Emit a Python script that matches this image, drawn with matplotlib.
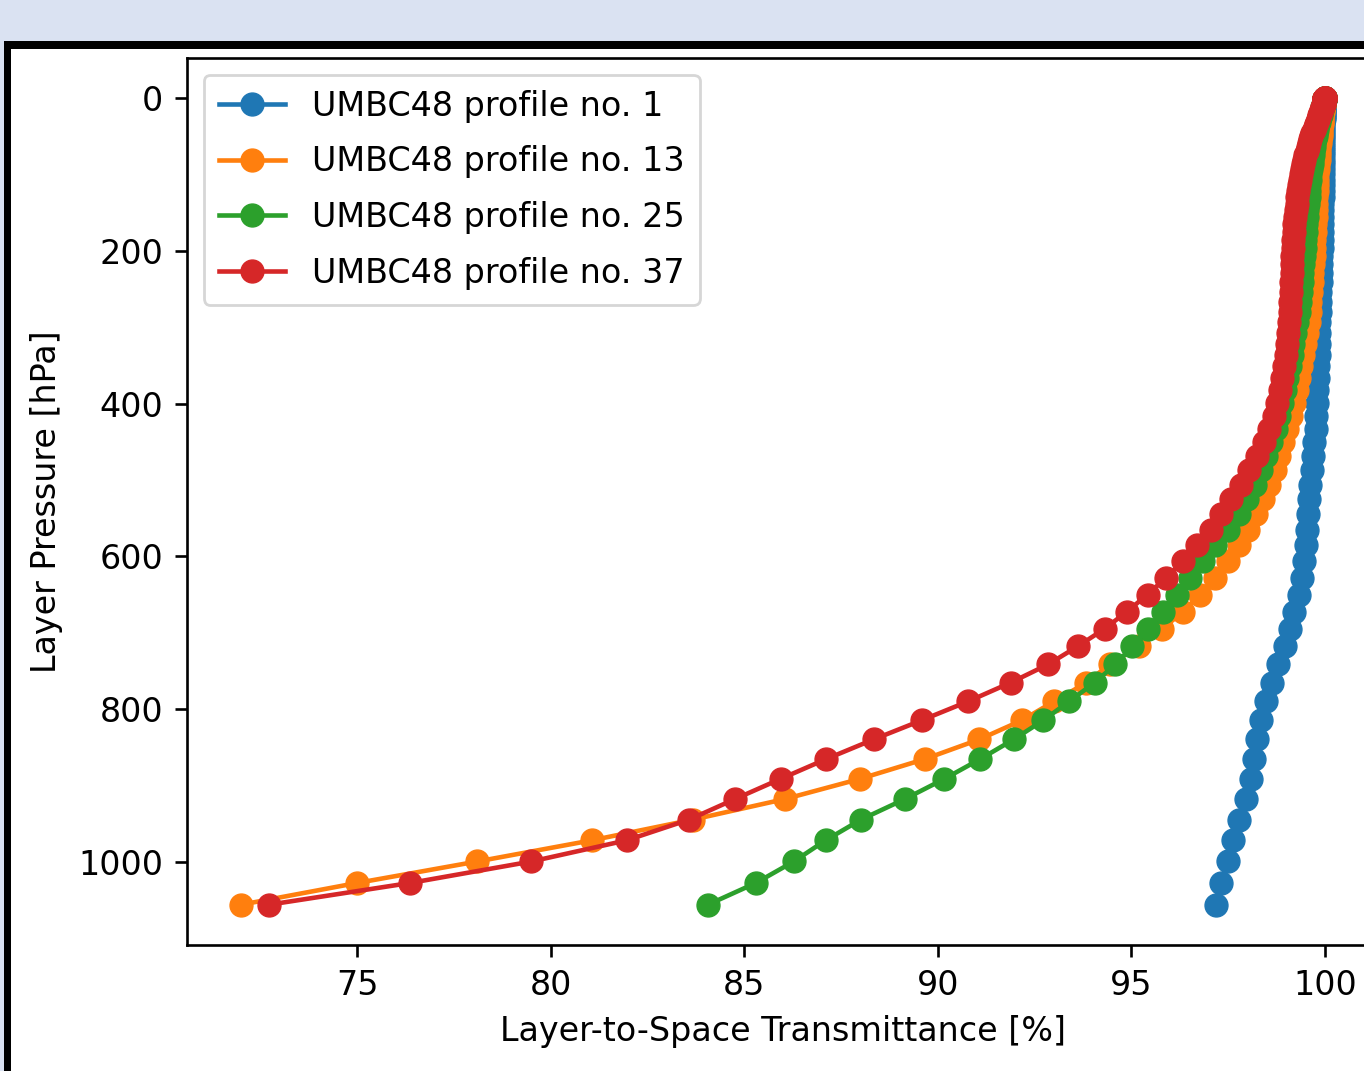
import numpy as np
import matplotlib
matplotlib.use("Agg")
from matplotlib import pyplot as plt
from matplotlib.patches import Rectangle

# AIRS 100-layer mean pressures [hPa], top of atmosphere first (bottom layer dropped)
pressure = [0.011, 0.027, 0.058, 0.107, 0.181, 0.285, 0.426, 0.610, 0.845, 1.136,
            1.492, 1.920, 2.427, 3.020, 3.708, 4.499, 5.399, 6.417, 7.561, 8.839,
            10.26, 11.83, 13.55, 15.44, 17.51, 19.75, 22.19, 24.82, 27.65, 30.70,
            33.96, 37.45, 41.18, 45.14, 49.36, 53.83, 58.56, 63.56, 68.83, 74.39,
            80.24, 86.38, 92.82, 99.57, 106.63, 114.01, 121.71, 129.75, 138.12, 146.83,
            155.88, 165.29, 175.05, 185.17, 195.65, 206.51, 217.73, 229.34, 241.32, 253.69,
            266.44, 279.59, 293.13, 307.07, 321.41, 336.15, 351.29, 366.85, 382.81, 399.18,
            415.97, 433.18, 450.80, 468.84, 487.30, 506.17, 525.48, 545.20, 565.35, 585.92,
            606.91, 628.33, 650.17, 672.43, 695.12, 718.22, 741.75, 765.70, 790.07, 814.86,
            840.07, 865.69, 891.72, 918.16, 945.01, 972.26, 999.97, 1028.09, 1056.58]

# layer-to-space transmittance [%] per profile
trans_p1 = [100.00, 100.00, 100.00, 100.00, 100.00, 100.00, 100.00, 100.00, 100.00, 100.00,
            100.00, 99.99, 99.99, 99.99, 99.99, 99.99, 99.99, 99.99, 99.98, 99.98,
            99.98, 99.98, 99.98, 99.98, 99.97, 99.97, 99.97, 99.97, 99.97, 99.96,
            99.96, 99.96, 99.96, 99.96, 99.96, 99.95, 99.95, 99.95, 99.95, 99.95,
            99.95, 99.95, 99.95, 99.95, 99.95, 99.95, 99.95, 99.95, 99.94, 99.94,
            99.94, 99.94, 99.93, 99.93, 99.92, 99.91, 99.90, 99.90, 99.89, 99.88,
            99.88, 99.87, 99.86, 99.85, 99.85, 99.84, 99.83, 99.82, 99.81, 99.80,
            99.78, 99.76, 99.73, 99.70, 99.67, 99.63, 99.58, 99.56, 99.54, 99.51,
            99.47, 99.41, 99.32, 99.21, 99.11, 98.98, 98.80, 98.63, 98.48, 98.35,
            98.26, 98.18, 98.08, 97.96, 97.79, 97.63, 97.49, 97.33, 97.18]

trans_p13 = [100.00, 100.00, 100.00, 100.00, 100.00, 100.00, 100.00, 99.99, 99.99, 99.99,
             99.99, 99.99, 99.99, 99.98, 99.98, 99.98, 99.98, 99.97, 99.97, 99.97,
             99.96, 99.96, 99.96, 99.95, 99.95, 99.94, 99.94, 99.93, 99.93, 99.92,
             99.92, 99.91, 99.90, 99.90, 99.89, 99.88, 99.87, 99.86, 99.85, 99.84,
             99.84, 99.83, 99.82, 99.81, 99.80, 99.80, 99.79, 99.78, 99.78, 99.77,
             99.76, 99.75, 99.74, 99.73, 99.72, 99.71, 99.70, 99.68, 99.67, 99.65,
             99.63, 99.61, 99.58, 99.54, 99.49, 99.44, 99.39, 99.33, 99.27, 99.21,
             99.12, 99.03, 98.93, 98.82, 98.70, 98.56, 98.40, 98.22, 98.02, 97.77,
             97.50, 97.17, 96.78, 96.34, 95.80, 95.20, 94.44, 93.84, 93.01, 92.18,
             91.07, 89.67, 87.99, 86.05, 83.68, 81.06, 78.10, 75.00, 72.00]

trans_p25 = [100.00, 100.00, 100.00, 100.00, 100.00, 100.00, 100.00, 100.00, 99.99, 99.99,
             99.99, 99.99, 99.99, 99.99, 99.99, 99.98, 99.98, 99.97, 99.97, 99.96,
             99.95, 99.94, 99.93, 99.92, 99.91, 99.90, 99.89, 99.87, 99.86, 99.84,
             99.83, 99.81, 99.80, 99.78, 99.77, 99.75, 99.73, 99.72, 99.70, 99.69,
             99.67, 99.66, 99.64, 99.63, 99.61, 99.60, 99.59, 99.58, 99.56, 99.55,
             99.54, 99.52, 99.51, 99.49, 99.48, 99.46, 99.44, 99.42, 99.40, 99.38,
             99.35, 99.32, 99.29, 99.24, 99.19, 99.14, 99.09, 99.03, 98.97, 98.90,
             98.82, 98.73, 98.62, 98.49, 98.35, 98.19, 98.00, 97.77, 97.50, 97.16,
             96.85, 96.52, 96.17, 95.83, 95.42, 95.03, 94.59, 94.05, 93.40, 92.73,
             91.96, 91.10, 90.17, 89.15, 88.02, 87.10, 86.28, 85.30, 84.06]

trans_p37 = [100.00, 100.00, 100.00, 100.00, 100.00, 100.00, 99.99, 99.99, 99.99, 99.99,
             99.99, 99.99, 99.99, 99.99, 99.99, 99.98, 99.98, 99.97, 99.97, 99.96,
             99.95, 99.94, 99.93, 99.91, 99.90, 99.88, 99.86, 99.84, 99.82, 99.79,
             99.77, 99.74, 99.71, 99.68, 99.65, 99.62, 99.59, 99.56, 99.53, 99.50,
             99.47, 99.44, 99.41, 99.38, 99.36, 99.33, 99.31, 99.29, 99.27, 99.25,
             99.23, 99.21, 99.20, 99.18, 99.17, 99.16, 99.15, 99.14, 99.13, 99.12,
             99.10, 99.09, 99.07, 99.05, 99.02, 98.99, 98.95, 98.90, 98.84, 98.77,
             98.68, 98.56, 98.42, 98.25, 98.05, 97.83, 97.58, 97.32, 97.07, 96.71,
             96.34, 95.89, 95.42, 94.89, 94.31, 93.61, 92.85, 91.88, 90.79, 89.59,
             88.34, 87.12, 85.94, 84.76, 83.58, 81.96, 79.50, 76.37, 72.72]

profiles = [1, 13, 25, 37]
series = [trans_p1, trans_p13, trans_p25, trans_p37]

W, H = 1364, 1071
plt.rcParams['font.size'] = 24
plt.rcParams['axes.linewidth'] = 1.9

fig = plt.figure(figsize=(W / 100, H / 100), dpi=100)
fig.patch.set_facecolor('#dae2f2')
# window frame around the plot
fig.add_artist(Rectangle((4 / W, 0), 1, (H - 41) / H, transform=fig.transFigure,
                         facecolor='black', edgecolor='none', zorder=-2))
fig.add_artist(Rectangle((11 / W, 0), 1, (H - 49) / H, transform=fig.transFigure,
                         facecolor='white', edgecolor='none', zorder=-1))

ax = fig.add_axes([187 / W, (H - 945) / H, 1192 / W, 887 / H])
for no, t in zip(profiles, series):
    ax.plot(np.array(t), np.array(pressure), '-o', lw=3.3, ms=16.5,
            label='UMBC48 profile no. {0}'.format(no))

ax.invert_yaxis()
ax.set_xticks([75, 80, 85, 90, 95, 100])
ax.set_yticks([0, 200, 400, 600, 800, 1000])
ax.tick_params(length=8.5, width=1.9, pad=8.5)
ax.set_xlabel('Layer-to-Space Transmittance [%]', labelpad=10)
ax.set_ylabel('Layer Pressure [hPa]', labelpad=11)
leg = ax.legend(loc='upper left', fontsize=24, labelspacing=0.68,
                handlelength=2.0, borderpad=0.45)
leg.get_frame().set_linewidth(2)

plt.savefig('out.png', dpi=100, facecolor=fig.get_facecolor())
